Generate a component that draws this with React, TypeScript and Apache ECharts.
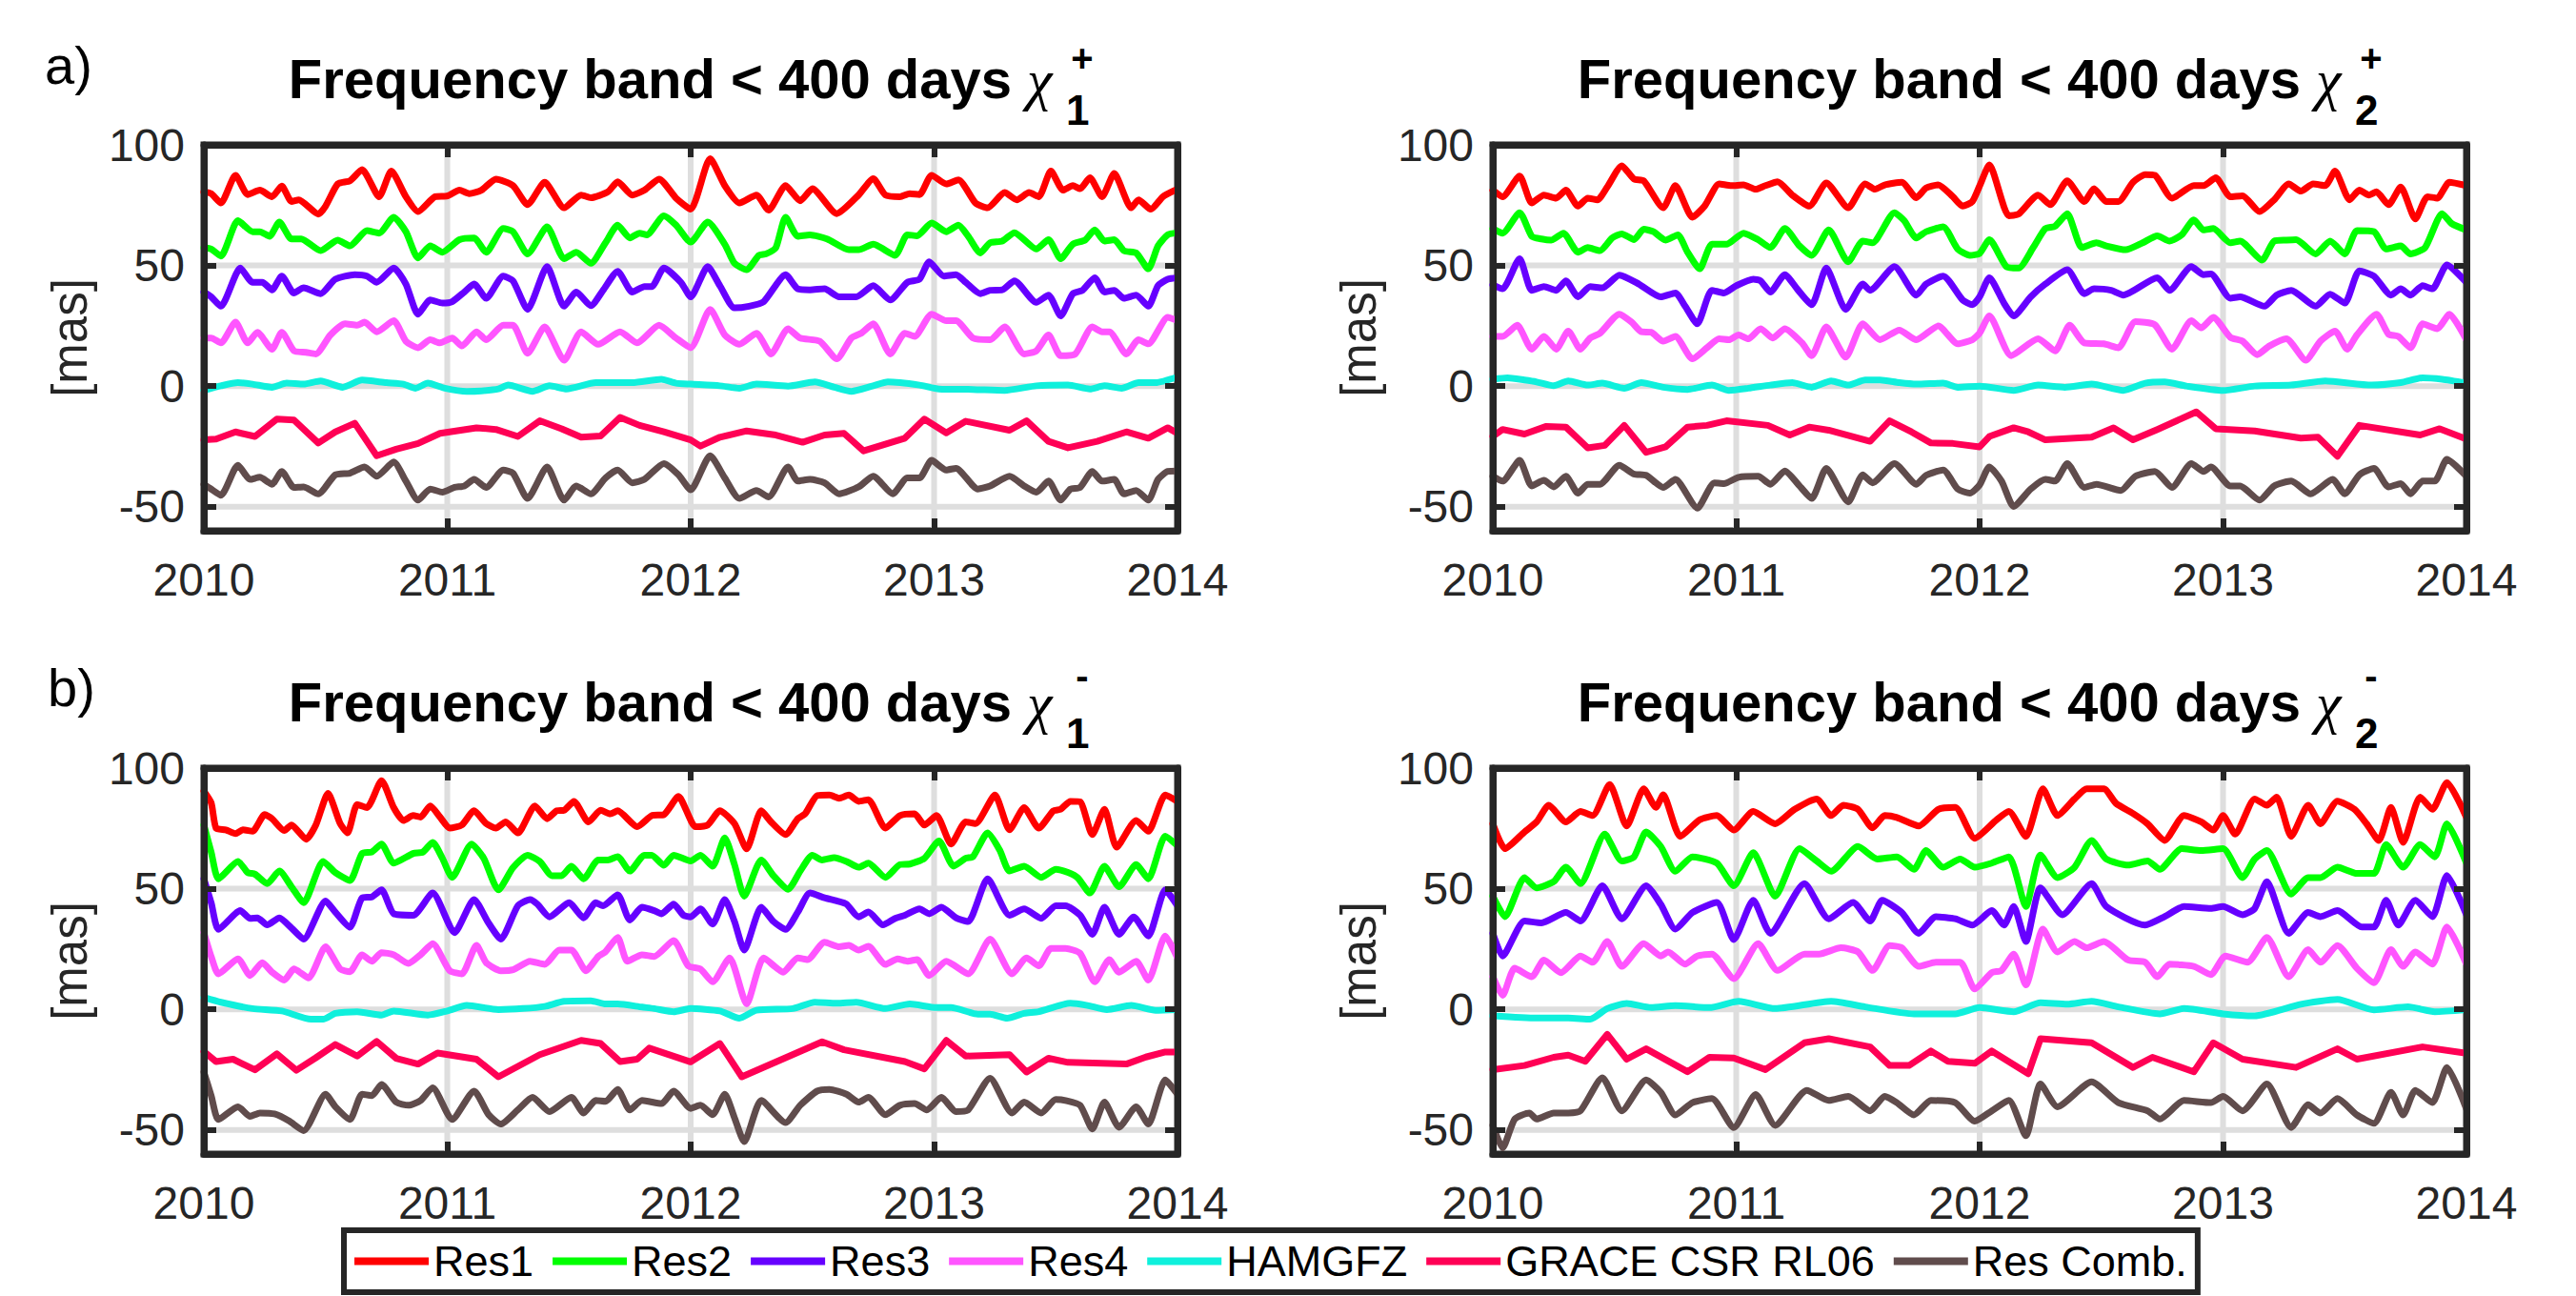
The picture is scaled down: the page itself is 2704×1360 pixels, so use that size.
import React, { useEffect, useRef } from "react";
import * as echarts from "echarts";

// ---------- data (flat lists: year, value, year, value, ...) ----------
const a1Res1 = [2010,80.5,2010.03,79.8,2010.07,75.9,2010.13,87.4,2010.18,79.4,2010.23,81.2,2010.28,78.5,2010.32,82.9,2010.36,76.5,2010.39,77.2,2010.47,71.3,2010.5,74.6,2010.55,83.8,2010.6,85.1,2010.65,89.7,2010.72,78.5,2010.77,89.1,2010.83,78.5,2010.88,72.3,2010.95,78.5,2011,78.8,2011.05,81.2,2011.09,79.8,2011.14,81.2,2011.2,85.8,2011.27,83.1,2011.33,75.2,2011.4,84.5,2011.48,73.9,2011.55,79.2,2011.59,78.1,2011.66,80.5,2011.7,84.7,2011.76,79.2,2011.81,81.2,2011.87,85.8,2011.94,77.9,2012,73.3,2012.08,94.3,2012.14,83.1,2012.2,75.9,2012.27,79.2,2012.32,72.9,2012.39,83.1,2012.45,76.8,2012.5,81.8,2012.6,71.5,2012.69,79.2,2012.75,86,2012.8,79.2,2012.86,78.5,2012.9,79.8,2012.94,79.4,2012.99,87.4,2013.05,83.8,2013.1,85.5,2013.17,75.9,2013.22,73.9,2013.29,80.2,2013.34,77.2,2013.39,80.2,2013.43,78.5,2013.48,89.1,2013.53,81.2,2013.57,83.1,2013.6,81.8,2013.64,86.4,2013.69,78.5,2013.74,88.1,2013.81,73.9,2013.84,77.2,2013.89,73.3,2013.94,78.5,2013.99,81.2,2014,81.5];
const a1Res2 = [2010,57.4,2010.03,56.8,2010.07,53.9,2010.14,68.6,2010.2,64,2010.23,64,2010.27,62.1,2010.31,68,2010.36,61,2010.4,61,2010.48,56.1,2010.55,60.5,2010.6,58.1,2010.67,64.4,2010.72,63.4,2010.78,70,2010.83,64,2010.88,53.1,2010.93,58.1,2010.98,55.5,2011.05,60.7,2011.11,61.4,2011.16,55.5,2011.23,65.3,2011.27,64,2011.33,54.8,2011.41,66,2011.48,52.8,2011.53,55.5,2011.59,50.9,2011.65,59.4,2011.7,66.7,2011.75,61.4,2011.79,63.4,2011.82,62.7,2011.89,70.6,2011.94,66.7,2012,59.7,2012.07,68,2012.14,58.8,2012.18,50.9,2012.23,48.2,2012.28,54.2,2012.31,54.8,2012.35,57.4,2012.39,70,2012.44,62.1,2012.49,62.7,2012.56,61,2012.65,56.5,2012.69,56.5,2012.75,58.8,2012.84,54.2,2012.89,62.7,2012.93,62.3,2012.99,67.6,2013.05,64,2013.1,66.7,2013.14,62.1,2013.19,55.2,2013.23,59.4,2013.28,60.1,2013.33,63.6,2013.42,56.8,2013.47,60.7,2013.52,52.8,2013.57,58.8,2013.62,60.5,2013.66,64.7,2013.7,60.1,2013.74,60.7,2013.78,56.1,2013.83,55.2,2013.88,48.6,2013.92,58.1,2013.96,62.7,2014,63.6];
const a1Res3 = [2010,39,2010.03,37,2010.07,33.1,2010.15,48.9,2010.2,43,2010.24,43,2010.28,39.9,2010.32,45.6,2010.37,38.6,2010.41,40.7,2010.48,38.3,2010.54,44.3,2010.62,46.2,2010.67,45.6,2010.71,43,2010.78,48.9,2010.83,42.3,2010.88,29.8,2010.93,35.7,2010.98,34.4,2011.02,35,2011.07,39,2011.11,42.3,2011.16,36.4,2011.23,45.6,2011.27,43.6,2011.33,31.8,2011.41,49.5,2011.48,33.1,2011.53,39,2011.59,33.3,2011.64,39.7,2011.7,47.6,2011.76,39,2011.81,41.2,2011.84,41.2,2011.89,48.9,2011.96,43,2012,37,2012.07,49.5,2012.12,41.6,2012.18,32.4,2012.24,33.1,2012.3,35,2012.39,46.2,2012.44,40.3,2012.49,39.9,2012.55,40.3,2012.61,37,2012.68,37,2012.75,41.6,2012.82,35.7,2012.89,43,2012.94,44.3,2012.98,51.5,2013.04,45.6,2013.09,46.2,2013.13,43,2013.19,38.3,2013.23,39.7,2013.28,39.9,2013.33,43.6,2013.42,34.7,2013.47,37.7,2013.52,29.1,2013.57,38.3,2013.61,39.7,2013.66,44.9,2013.7,39,2013.74,39.7,2013.78,36.4,2013.83,37.7,2013.88,33.1,2013.92,41.6,2013.96,44.3,2014,44.9];
const a1Res4 = [2010,19.9,2010.03,19.9,2010.07,17.9,2010.13,26.5,2010.18,17.9,2010.22,22.3,2010.28,15.3,2010.32,22.3,2010.37,14.6,2010.42,14,2010.46,13.3,2010.52,21.2,2010.58,25.8,2010.63,25.2,2010.66,26.5,2010.71,22.5,2010.78,27.1,2010.83,18.6,2010.88,15.9,2010.93,19.2,2010.97,17.9,2011.02,19.9,2011.06,16.6,2011.12,22.5,2011.16,19.2,2011.23,25.2,2011.27,25.2,2011.33,13.6,2011.4,24.5,2011.48,10.7,2011.55,22.5,2011.62,17.3,2011.71,22.5,2011.78,17.9,2011.87,25.2,2011.94,19.9,2012,15.9,2012.08,31.8,2012.14,21.2,2012.2,17.3,2012.27,21.9,2012.33,13.3,2012.4,23.8,2012.45,19.9,2012.53,18.6,2012.6,11.3,2012.66,19.9,2012.7,21.9,2012.75,25.8,2012.82,13.3,2012.88,21.9,2012.92,20.6,2012.99,29.8,2013.05,27.1,2013.09,27.1,2013.16,19.9,2013.23,19.2,2013.29,24.5,2013.37,13.3,2013.42,14.6,2013.47,21.2,2013.52,12.6,2013.58,13.3,2013.65,24.5,2013.69,22.5,2013.72,22.5,2013.79,13.3,2013.84,19.2,2013.88,17.5,2013.96,28.5,2014,27.1];
const a1Ham = [2010,-1.8,2010.07,0.1,2010.14,1.4,2010.2,0.8,2010.28,-0.5,2010.34,1.2,2010.41,0.8,2010.48,2.1,2010.57,-0.5,2010.65,2.5,2010.75,1.4,2010.82,0.8,2010.87,-0.9,2010.92,1.2,2010.99,-0.9,2011.08,-2.2,2011.14,-2,2011.21,-1.2,2011.25,0.4,2011.35,-2.2,2011.42,0.1,2011.49,-1.2,2011.61,1.4,2011.76,1.4,2011.88,2.8,2011.94,1.2,2012,0.8,2012.12,0.1,2012.2,-0.9,2012.27,0.8,2012.4,0,2012.51,1.7,2012.59,-0.5,2012.66,-2.2,2012.75,0.1,2012.81,1.7,2012.94,0.4,2013.02,-1.2,2013.16,-1.4,2013.29,-1.8,2013.42,0.1,2013.55,0.4,2013.64,-1.2,2013.7,0.1,2013.77,-0.9,2013.84,1.4,2013.91,1.4,2014,3.8];
const a1Grace = [2010,-22.3,2010.05,-22,2010.13,-19,2010.21,-20.9,2010.3,-13.7,2010.37,-14.1,2010.47,-23.6,2010.54,-19,2010.62,-15.4,2010.71,-28.9,2010.79,-26.2,2010.88,-23.8,2010.97,-19.6,2011.12,-17.3,2011.2,-18,2011.29,-20.9,2011.38,-14.4,2011.47,-17.7,2011.55,-21.2,2011.63,-20.7,2011.71,-13,2011.79,-16.3,2011.89,-19,2012,-22.3,2012.04,-24.9,2012.12,-21.2,2012.23,-18.6,2012.35,-20.3,2012.46,-23.3,2012.55,-20.3,2012.63,-19.6,2012.71,-26.9,2012.88,-21.6,2012.96,-13.7,2013.05,-19.4,2013.13,-14.6,2013.31,-18.3,2013.38,-14.4,2013.47,-22.9,2013.55,-25.6,2013.67,-22.9,2013.79,-19,2013.88,-21.6,2013.96,-17.3,2014,-19.6];
const a1Comb = [2010,-40.7,2010.03,-42.7,2010.07,-45.3,2010.14,-32.8,2010.19,-38.7,2010.23,-37.8,2010.28,-40.7,2010.32,-35.4,2010.37,-42,2010.41,-41.8,2010.47,-44.7,2010.54,-36.8,2010.6,-36.1,2010.66,-33.5,2010.71,-37.4,2010.78,-31.5,2010.83,-39.4,2010.88,-47.3,2010.93,-42.7,2010.98,-44,2011.03,-42,2011.07,-41.4,2011.11,-38.7,2011.16,-42,2011.23,-34.8,2011.27,-36.1,2011.33,-46.6,2011.41,-33.5,2011.48,-47.3,2011.53,-41.4,2011.59,-44.7,2011.65,-38.1,2011.7,-34.8,2011.76,-40.1,2011.81,-38.7,2011.89,-32.1,2011.95,-36.8,2012,-43,2012.08,-28.9,2012.14,-38.1,2012.2,-46.6,2012.27,-43.3,2012.32,-46,2012.4,-33.5,2012.44,-39.4,2012.49,-38.7,2012.55,-40.1,2012.61,-44.7,2012.69,-41.8,2012.75,-37.4,2012.83,-44.7,2012.89,-38.1,2012.94,-38.1,2012.99,-30.8,2013.05,-34.8,2013.09,-34.1,2013.18,-42.7,2013.23,-41.4,2013.31,-37.4,2013.37,-41.4,2013.42,-44,2013.47,-39.4,2013.52,-47.3,2013.56,-42.7,2013.6,-42,2013.65,-35.4,2013.69,-39.4,2013.74,-38.7,2013.78,-44.7,2013.83,-43.3,2013.88,-47.3,2013.92,-38.7,2013.96,-35.4,2014,-35.2];

const a2Res1 = [2010,81.2,2010.04,78.5,2010.11,87.1,2010.16,75.9,2010.21,79.2,2010.26,77.9,2010.3,81.2,2010.35,74.6,2010.39,77.9,2010.43,77.2,2010.47,82.5,2010.53,91.3,2010.58,85.8,2010.62,85.1,2010.7,73.9,2010.75,83.1,2010.82,70,2010.87,74.6,2010.93,83.8,2010.98,83.1,2011.03,83.4,2011.08,81.6,2011.12,83.1,2011.17,84.7,2011.23,79.2,2011.3,74.6,2011.37,84.2,2011.46,73.9,2011.53,83.8,2011.57,81.6,2011.61,83.4,2011.68,84.5,2011.74,78.1,2011.78,82.1,2011.83,83.4,2011.89,78.5,2011.93,74.6,2011.97,76.5,2012,83,2012.04,91.7,2012.12,70.6,2012.16,71.3,2012.24,79.2,2012.29,75.2,2012.36,85.1,2012.43,76.5,2012.47,81.8,2012.52,76.5,2012.57,76.5,2012.63,84.5,2012.68,87.7,2012.72,87.4,2012.79,77.9,2012.88,83.1,2012.92,83.1,2012.97,86.4,2013.03,78.5,2013.08,78.9,2013.15,72.3,2013.21,77.2,2013.27,83.8,2013.32,80.8,2013.37,83.8,2013.42,83.1,2013.46,89.1,2013.52,77.2,2013.56,81.2,2013.6,79.2,2013.63,80.5,2013.68,75.2,2013.73,82.5,2013.79,69.3,2013.84,78.5,2013.88,77.9,2013.93,84.5,2014,83.1];
const a2Res2 = [2010,65.3,2010.04,63.4,2010.11,71.9,2010.16,62.1,2010.2,61,2010.24,60.5,2010.29,63.4,2010.35,55.5,2010.39,57.4,2010.44,56.1,2010.49,61.4,2010.53,63.1,2010.58,60.7,2010.62,65,2010.66,64,2010.71,60.5,2010.76,62.7,2010.8,55.5,2010.85,48.6,2010.9,58.8,2010.96,58.8,2011.03,63.4,2011.09,60.7,2011.14,57.4,2011.2,65.3,2011.26,58.1,2011.31,54.2,2011.38,64.7,2011.46,51.5,2011.52,60.1,2011.56,59.4,2011.65,71.9,2011.69,68.6,2011.74,61.4,2011.78,64,2011.85,66,2011.91,56.8,2011.96,54.2,2012,55,2012.04,60.7,2012.11,49.5,2012.16,48.9,2012.22,57.4,2012.27,65.3,2012.31,66.3,2012.36,71.5,2012.42,57.4,2012.48,59.4,2012.52,58.1,2012.6,56.5,2012.67,59.4,2012.73,62.3,2012.78,60.1,2012.83,62.7,2012.88,68.9,2012.92,64.7,2012.96,65.3,2013.03,59.4,2013.07,60.1,2013.16,52.2,2013.21,60.1,2013.26,60.5,2013.3,60.7,2013.38,54.8,2013.44,60.1,2013.5,54.8,2013.55,64.4,2013.62,64,2013.67,56.8,2013.73,58.1,2013.77,54.8,2013.83,57.4,2013.9,71.5,2013.94,67.3,2014,64.7];
const a2Res3 = [2010,42,2010.04,40.3,2010.11,52.8,2010.16,39.7,2010.21,41.2,2010.26,39.7,2010.3,43.6,2010.35,37,2010.4,41.2,2010.45,40.7,2010.52,46,2010.6,42.3,2010.69,37,2010.75,38.6,2010.79,33.1,2010.84,25.8,2010.9,39.7,2010.95,38.6,2011,41.6,2011.07,44.3,2011.1,43.6,2011.14,39,2011.2,46.2,2011.25,40.3,2011.31,33.7,2011.37,48.9,2011.45,31.8,2011.52,42.3,2011.55,39.7,2011.65,49.5,2011.74,37.7,2011.78,42.3,2011.85,45.6,2011.93,35.7,2011.97,33.7,2012,37,2012.04,44.9,2012.1,34.4,2012.14,29.1,2012.21,37,2012.27,42.3,2012.36,48.2,2012.43,38.3,2012.47,40.3,2012.54,39.7,2012.59,37.7,2012.73,44.9,2012.78,39.7,2012.87,49.5,2012.92,46.2,2012.95,46.5,2013.03,36.4,2013.07,37,2013.17,33.1,2013.22,37.7,2013.28,39.7,2013.38,33.1,2013.44,38.1,2013.5,34.4,2013.56,47.8,2013.62,45.6,2013.69,37.7,2013.73,40.3,2013.77,37.7,2013.82,41.6,2013.86,40.3,2013.92,50.2,2014,43];
const a2Res4 = [2010,20.6,2010.04,20.6,2010.1,25.2,2010.16,15.3,2010.21,20.6,2010.26,15.3,2010.31,22.8,2010.36,15.3,2010.4,19.9,2010.44,21.9,2010.52,29.8,2010.57,26.5,2010.61,22.5,2010.65,22.3,2010.7,18.6,2010.75,20.6,2010.82,11.3,2010.88,15.9,2010.93,19.6,2010.97,19.2,2011.01,21.2,2011.05,19.6,2011.1,23.8,2011.15,19.9,2011.2,23.8,2011.27,17.9,2011.31,12.6,2011.37,24.5,2011.45,12,2011.52,25.8,2011.59,19.2,2011.67,23.2,2011.74,19.2,2011.83,24.9,2011.91,17.5,2011.97,19.2,2012,22,2012.04,29.1,2012.13,12.6,2012.24,19.6,2012.31,14.6,2012.37,25.2,2012.43,17.9,2012.51,17.5,2012.57,15.9,2012.64,26.7,2012.72,25.4,2012.79,15.3,2012.87,27.1,2012.91,24.1,2012.96,28.5,2013.03,20.2,2013.08,18.6,2013.14,13,2013.19,16.6,2013.26,19.6,2013.34,10.7,2013.4,18.6,2013.46,22.8,2013.51,15.3,2013.55,21.2,2013.63,29.8,2013.68,21.5,2013.72,20.6,2013.77,15.9,2013.82,25.8,2013.88,23.8,2013.93,29.8,2014,19.2];
const a2Ham = [2010,2.8,2010.06,3.4,2010.13,2.5,2010.18,1.7,2010.25,0.1,2010.31,2.1,2010.39,0.4,2010.45,1.2,2010.54,-0.9,2010.61,1.4,2010.7,-0.5,2010.8,-1.4,2010.9,0.4,2010.97,-1.8,2011.05,-0.9,2011.14,0.4,2011.23,1.4,2011.31,-0.5,2011.39,2.1,2011.46,0.4,2011.53,2.5,2011.59,2.5,2011.67,1.4,2011.74,0.8,2011.85,1.2,2011.91,-0.5,2012,0,2012.14,-1.8,2012.24,0.4,2012.35,-0.5,2012.46,0.8,2012.59,-1.8,2012.68,1.2,2012.76,1.7,2012.85,0,2013,-1.8,2013.13,0,2013.28,0.4,2013.42,2.1,2013.61,0.4,2013.73,1.4,2013.82,3.4,2013.9,2.8,2014,1.2];
const a2Grace = [2010,-20.9,2010.04,-18,2010.13,-19.9,2010.22,-16.7,2010.3,-17,2010.39,-25.6,2010.46,-24.6,2010.54,-16.3,2010.63,-27.5,2010.71,-25.2,2010.8,-17,2010.88,-16.3,2010.96,-14.4,2011.13,-16.3,2011.22,-20.3,2011.3,-17,2011.38,-18.3,2011.55,-22.9,2011.63,-14.4,2011.72,-19,2011.8,-23.6,2011.89,-23.8,2012,-25.2,2012.04,-20.9,2012.14,-17.3,2012.2,-19,2012.27,-22.3,2012.46,-21.2,2012.55,-17.3,2012.63,-22.3,2012.73,-18,2012.89,-10.7,2012.97,-17.7,2013.13,-18.6,2013.32,-21.6,2013.39,-21.2,2013.47,-29.1,2013.56,-16.3,2013.81,-20.3,2013.89,-17.7,2014,-22];
const a2Comb = [2010,-37.4,2010.04,-39.4,2010.11,-30.8,2010.16,-41.4,2010.21,-39.1,2010.25,-41.8,2010.3,-37.4,2010.35,-44.4,2010.39,-40.7,2010.44,-40.7,2010.52,-32.8,2010.58,-36.5,2010.63,-37,2010.7,-42,2010.75,-38.7,2010.84,-50.6,2010.91,-40.1,2010.95,-40.4,2011.01,-37.8,2011.09,-37.4,2011.14,-40.7,2011.2,-35.2,2011.26,-41.4,2011.31,-46.6,2011.37,-34.1,2011.46,-48,2011.52,-36.8,2011.56,-40.1,2011.65,-32.1,2011.74,-40.7,2011.78,-37,2011.85,-34.8,2011.91,-42.7,2011.96,-44.4,2012,-41,2012.04,-33.5,2012.09,-39.4,2012.14,-49.9,2012.21,-42.7,2012.27,-38.7,2012.31,-39.4,2012.36,-32.1,2012.43,-42,2012.48,-40.7,2012.58,-43.3,2012.64,-37.4,2012.72,-35.4,2012.79,-42,2012.87,-32.1,2012.92,-35.4,2012.95,-33.5,2013.03,-41.4,2013.07,-41.4,2013.15,-47.3,2013.21,-41.4,2013.28,-39.4,2013.36,-44.7,2013.45,-38.7,2013.5,-44.7,2013.56,-36.8,2013.62,-34.1,2013.68,-41.8,2013.73,-40.4,2013.77,-44.7,2013.82,-39.4,2013.87,-39.4,2013.92,-30.4,2014,-37.4];

const b1Res1 = [2010,90.4,2010.03,85.6,2010.05,75.1,2010.09,74.4,2010.13,72.8,2010.16,74.4,2010.2,73.8,2010.25,80.7,2010.28,79,2010.33,74.1,2010.36,76.4,2010.42,70.5,2010.46,76.4,2010.51,89.5,2010.56,77,2010.59,73.1,2010.63,84.9,2010.67,83.6,2010.73,94.8,2010.78,83.6,2010.82,78.3,2010.86,80.3,2010.89,79.7,2010.93,84.3,2010.97,79.7,2011.01,75.1,2011.06,76.4,2011.11,82.3,2011.16,77,2011.2,75.1,2011.24,77.7,2011.29,73.1,2011.36,84.3,2011.41,79,2011.45,82.3,2011.48,82.5,2011.52,86.2,2011.58,77.7,2011.63,82.5,2011.67,81,2011.7,82.3,2011.78,75.7,2011.84,80.3,2011.89,80.7,2011.95,88.2,2012.02,75.7,2012.07,76.4,2012.12,82.3,2012.18,77,2012.23,66.5,2012.29,82.3,2012.33,77.7,2012.39,72.4,2012.44,79,2012.47,81,2012.52,88.6,2012.57,88.8,2012.61,87.5,2012.65,88.8,2012.69,86.2,2012.73,86.9,2012.8,75.1,2012.86,80.3,2012.92,81,2012.96,76.4,2013.01,80.3,2013.07,68.5,2013.13,77.7,2013.17,77,2013.25,88.8,2013.31,74.4,2013.37,83.6,2013.43,75.1,2013.49,82.3,2013.52,82.9,2013.56,86.2,2013.6,86,2013.65,72.4,2013.7,82.9,2013.75,67.2,2013.83,78.3,2013.88,73.8,2013.95,88.8,2014,86.2];
const b1Res2 = [2010,76.4,2010.03,65.2,2010.06,54.1,2010.14,61.3,2010.18,56.7,2010.21,56,2010.26,52.1,2010.31,57.3,2010.36,50.8,2010.41,44.2,2010.49,61.3,2010.54,56.7,2010.6,53.4,2010.65,64.6,2010.69,65.2,2010.73,68.5,2010.78,60.6,2010.86,64.6,2010.9,65.2,2010.94,69.2,2010.98,62.6,2011.02,54.7,2011.1,68.5,2011.15,62.6,2011.21,49.5,2011.27,58.7,2011.33,63.9,2011.38,61.3,2011.43,55.4,2011.47,55.4,2011.51,59.3,2011.56,54.1,2011.62,61.9,2011.66,61.9,2011.7,63.3,2011.75,57.3,2011.81,63.9,2011.84,63.9,2011.89,59.7,2011.93,63.9,2012,61.5,2012.04,63.9,2012.09,59.3,2012.14,71.1,2012.18,60,2012.22,46.9,2012.29,61.9,2012.34,55.4,2012.4,49.7,2012.45,57.3,2012.5,63.9,2012.54,61.9,2012.59,62.9,2012.64,61.3,2012.69,58.9,2012.73,60.6,2012.8,54.7,2012.86,60,2012.9,60.2,2012.96,62.6,2013.02,69.8,2013.08,59.3,2013.13,62.6,2013.16,63.3,2013.22,73.1,2013.27,65.9,2013.31,57.3,2013.37,59.3,2013.44,54.7,2013.5,58,2013.55,56.7,2013.59,54.5,2013.64,48.2,2013.7,59.3,2013.76,50.8,2013.83,60,2013.88,54.1,2013.95,71.8,2014,67.8];
const b1Res3 = [2010,54.1,2010.03,44.2,2010.06,33.1,2010.15,40.9,2010.19,37.7,2010.22,37.9,2010.26,35,2010.31,37.9,2010.36,33.7,2010.41,29.1,2010.5,44.9,2010.54,40.3,2010.6,34,2010.65,46.2,2010.69,46.6,2010.73,49.5,2010.78,39.6,2010.86,39,2010.94,48.2,2011.03,31.8,2011.11,45.5,2011.17,35.7,2011.22,29.1,2011.29,42.9,2011.34,45.5,2011.37,43.6,2011.42,38.3,2011.5,44.2,2011.56,37.9,2011.61,44.2,2011.64,42.9,2011.7,47.5,2011.75,37,2011.8,42.3,2011.85,40.9,2011.88,39.6,2011.93,43.6,2011.97,39,2012,38.3,2012.04,41.6,2012.09,35.3,2012.14,45.5,2012.18,36.4,2012.22,24.5,2012.29,42.3,2012.34,36.4,2012.39,33.1,2012.44,40.3,2012.49,48.2,2012.55,46.2,2012.6,44.9,2012.64,43.6,2012.69,38.3,2012.73,40.3,2012.79,35,2012.84,37.7,2012.88,39,2012.94,41.6,2012.98,39.6,2013.03,42.3,2013.09,37.9,2013.14,36.4,2013.22,54.1,2013.31,39,2013.37,41.6,2013.44,37.7,2013.5,42.9,2013.54,42.9,2013.6,39,2013.65,31.1,2013.7,42.3,2013.76,31.1,2013.82,38.3,2013.88,30.4,2013.95,49.5,2014,42.9];
const b1Res4 = [2010,31.8,2010.03,21.9,2010.06,14.7,2010.14,20.9,2010.19,14,2010.24,19.3,2010.28,15.4,2010.33,12.1,2010.37,16.7,2010.43,13,2010.5,25.9,2010.56,16.7,2010.6,15.6,2010.65,22.6,2010.69,19.9,2010.73,23.5,2010.78,22.6,2010.84,19,2010.89,22.6,2010.94,27.2,2011.01,16,2011.06,14.7,2011.12,26.5,2011.16,19.3,2011.22,16,2011.27,16.4,2011.34,19.9,2011.4,18.6,2011.46,24.5,2011.51,24.5,2011.57,16,2011.62,21.9,2011.65,23.9,2011.7,29.8,2011.74,19.9,2011.8,22.6,2011.85,21.9,2011.93,28.5,2011.99,18,2012.04,16.7,2012.09,11.4,2012.16,21.3,2012.23,2.2,2012.3,21.3,2012.38,15.4,2012.44,21.3,2012.48,20.6,2012.55,27.8,2012.61,25.9,2012.65,26.5,2012.69,24.5,2012.73,26.1,2012.8,18.6,2012.85,20.9,2012.89,19.9,2012.93,20.6,2012.98,14,2013.05,19.9,2013.14,14.7,2013.23,29.1,2013.32,14.7,2013.38,21.3,2013.43,18,2013.48,25.2,2013.54,25.2,2013.6,23.2,2013.66,11.4,2013.72,20.6,2013.76,15.4,2013.83,19.9,2013.88,12.1,2013.95,30.4,2014,21.3];
const b1Ham = [2010,4.9,2010.07,2.9,2010.2,0.3,2010.32,-0.7,2010.44,-4.1,2010.49,-4.1,2010.54,-1.7,2010.63,-1,2010.73,-2.4,2010.78,-0.7,2010.92,-2.4,2011,-0.7,2011.08,1.6,2011.21,-0.1,2011.31,0.3,2011.4,1.2,2011.48,3.3,2011.59,3.5,2011.65,2.2,2011.7,2.2,2011.8,0.9,2011.85,0.3,2011.93,-1,2012,0.3,2012.12,-0.7,2012.2,-3.7,2012.27,-0.4,2012.42,0.3,2012.51,2.9,2012.6,2.5,2012.68,2.9,2012.8,0.3,2012.9,2.2,2013.01,0.7,2013.07,0.7,2013.18,-2,2013.23,-2,2013.3,-3.7,2013.37,-1.7,2013.43,-1,2013.56,2.5,2013.63,1.6,2013.71,-0.1,2013.81,1.6,2013.91,-0.4,2014,-0.1];
const b1Grace = [2010,-17.5,2010.05,-21.7,2010.12,-20.7,2010.21,-25.1,2010.3,-18.5,2010.38,-25.3,2010.46,-20.1,2010.54,-14.6,2010.63,-19.4,2010.71,-13.3,2010.79,-20.3,2010.88,-22.7,2010.96,-18.1,2011.12,-20.7,2011.21,-28,2011.38,-18.8,2011.55,-12.9,2011.63,-14.2,2011.71,-21.7,2011.78,-20.7,2011.83,-16.1,2012,-21.8,2012.12,-14.2,2012.21,-28,2012.54,-13.5,2012.63,-16.8,2012.88,-21.7,2012.96,-24.7,2013.05,-12.9,2013.13,-19.4,2013.31,-18.8,2013.38,-26,2013.47,-20.3,2013.55,-22,2013.79,-22.7,2013.87,-19.8,2013.95,-17.7,2014,-17.7];
const b1Comb = [2010,-26,2010.03,-35.8,2010.06,-45.7,2010.14,-40.4,2010.19,-44.4,2010.23,-43,2010.29,-43.4,2010.35,-46.3,2010.41,-50.3,2010.5,-35.2,2010.54,-40.4,2010.6,-45.7,2010.65,-35.2,2010.69,-35.8,2010.73,-31.2,2010.79,-38.5,2010.84,-39.8,2010.89,-37.8,2010.94,-32.5,2011.02,-45.7,2011.11,-33.9,2011.17,-43.7,2011.22,-47.6,2011.29,-41.7,2011.35,-36.5,2011.42,-42.4,2011.51,-36.5,2011.56,-43,2011.61,-37.8,2011.65,-38.2,2011.7,-33.2,2011.75,-41.7,2011.8,-37.8,2011.88,-39.1,2011.93,-33.9,2012,-41.1,2012.04,-39.8,2012.09,-43.7,2012.14,-35.2,2012.18,-45,2012.22,-54.9,2012.29,-37.8,2012.39,-47,2012.45,-39.8,2012.52,-33.9,2012.57,-33.2,2012.64,-35.2,2012.69,-38.5,2012.73,-36.5,2012.8,-43.7,2012.86,-39.8,2012.92,-39.1,2012.97,-41.7,2013.03,-36.5,2013.09,-42.4,2013.14,-41.7,2013.23,-28.6,2013.32,-43,2013.37,-38.5,2013.44,-43,2013.5,-37.4,2013.54,-37.8,2013.6,-39.8,2013.65,-49.6,2013.7,-38.5,2013.76,-48.9,2013.83,-40.4,2013.88,-47.6,2013.95,-29.3,2014,-35.2];

const b2Res1 = [2010,76.9,2010.05,66.6,2010.13,73.5,2010.18,77.7,2010.23,84.6,2010.3,77.7,2010.36,82,2010.41,80.3,2010.48,93.2,2010.55,76,2010.62,91.4,2010.67,83.7,2010.7,88.9,2010.77,71.7,2010.85,78.6,2010.92,80.3,2010.99,74.3,2011.07,82,2011.16,76.9,2011.24,82.9,2011.33,87.2,2011.39,80.3,2011.44,84.6,2011.5,82.9,2011.56,75.2,2011.61,80.3,2011.66,79.5,2011.75,76,2011.83,82.9,2011.9,83.7,2011.98,70.9,2012.07,78.6,2012.12,82,2012.19,71.7,2012.26,91.4,2012.32,80.3,2012.39,87.2,2012.44,91.4,2012.51,91.4,2012.56,85.4,2012.63,81.2,2012.69,76.9,2012.76,70,2012.84,80.3,2012.91,77.7,2012.96,74.3,2013,80.3,2013.05,72.6,2013.13,87.2,2013.18,84.6,2013.22,88,2013.28,71.7,2013.35,84.6,2013.4,76.9,2013.47,86.3,2013.54,82.9,2013.59,76.9,2013.64,70,2013.69,83.7,2013.74,69.2,2013.81,88,2013.86,82.9,2013.92,94,2014,79.5];
const b2Res2 = [2010,46.9,2010.05,38.4,2010.13,54.6,2010.18,50.3,2010.25,52.9,2010.3,58.9,2010.36,52.1,2010.46,72.6,2010.53,61.5,2010.58,63.2,2010.63,73.5,2010.69,67.5,2010.75,57.2,2010.82,63.2,2010.92,60.6,2010.99,51.2,2011.07,64.9,2011.16,46.9,2011.26,66.6,2011.33,61.5,2011.39,57.2,2011.5,67.5,2011.58,62.3,2011.66,63.2,2011.73,58,2011.78,65.8,2011.85,58.9,2011.92,62.3,2011.98,58.9,2012.05,60.6,2012.12,63.2,2012.19,42.6,2012.25,64,2012.32,54.6,2012.39,58.9,2012.46,70,2012.52,62.3,2012.61,59.8,2012.69,61.5,2012.74,58,2012.83,66.6,2012.91,65.8,2013,66.6,2013.08,54.6,2013.13,62.3,2013.18,65.8,2013.28,47.8,2013.35,54.6,2013.4,54.6,2013.47,58.9,2013.55,56.3,2013.62,56.3,2013.67,68.3,2013.74,58.9,2013.81,68.3,2013.87,63.2,2013.92,76.9,2014,60.6];
const b2Res3 = [2010,31.5,2010.04,22.1,2010.13,36.6,2010.2,35.8,2010.3,40.1,2010.36,36.6,2010.45,51.2,2010.53,37.5,2010.63,51.2,2010.69,43.5,2010.75,33.2,2010.82,40.1,2010.92,44.3,2010.99,28.9,2011.07,45.2,2011.14,31.5,2011.28,52.1,2011.38,37.5,2011.48,44.3,2011.55,36.6,2011.6,45.2,2011.68,40.1,2011.75,31.5,2011.82,38.4,2011.9,37.5,2011.97,34.9,2012.05,40.9,2012.1,34.9,2012.14,42.6,2012.19,28.1,2012.25,50.3,2012.34,39.2,2012.46,52.1,2012.52,42.6,2012.68,34.9,2012.76,38.4,2012.84,42.6,2012.95,41.8,2013,42.6,2013.08,39.2,2013.13,41.8,2013.18,52.9,2013.27,31.5,2013.35,40.1,2013.4,38.4,2013.47,40.9,2013.57,34.1,2013.62,34.1,2013.67,45.2,2013.72,34.9,2013.79,45.2,2013.86,38.4,2013.92,55.5,2014,39.2];
const b2Res4 = [2010,13.5,2010.04,5.8,2010.09,17,2010.16,13.5,2010.21,20.4,2010.28,15.2,2010.36,22.1,2010.41,19.5,2010.47,28.1,2010.53,17.8,2010.62,27.2,2010.69,22.1,2010.72,23.8,2010.79,18.7,2010.84,22.1,2010.9,22.9,2010.99,12.7,2011.09,27.2,2011.17,16.1,2011.28,22.9,2011.34,22.9,2011.43,25.5,2011.5,23.8,2011.56,16.1,2011.63,26.4,2011.68,25.5,2011.75,17.8,2011.82,19.5,2011.92,19.5,2011.98,8.4,2012.05,15.2,2012.09,16.1,2012.14,22.9,2012.19,10.1,2012.26,33.2,2012.32,23.8,2012.39,28.1,2012.44,25.5,2012.51,28.1,2012.61,20.4,2012.68,19.5,2012.73,13.5,2012.78,18.7,2012.88,17.8,2012.95,14.4,2013.01,22.1,2013.1,19.5,2013.18,29.8,2013.27,13.5,2013.35,24.7,2013.4,19.5,2013.47,26.4,2013.55,17,2013.62,11,2013.69,24.7,2013.74,17.8,2013.79,23.8,2013.86,18.7,2013.92,34.1,2014,18.7];
const b2Ham = [2010,-2.7,2010.18,-3.6,2010.31,-3.6,2010.4,-4.1,2010.47,0.3,2010.55,2.4,2010.65,0.7,2010.75,1.5,2010.89,0.7,2011.01,3.3,2011.16,0.3,2011.39,3.3,2011.53,1,2011.73,-1.9,2011.9,-1.9,2012,0.7,2012.14,-1,2012.25,2.7,2012.36,2.1,2012.46,3.3,2012.57,1,2012.74,-1.9,2012.84,0.3,2013,-1.9,2013.13,-2.7,2013.32,2.1,2013.47,4.1,2013.62,-0.2,2013.76,1,2013.87,-1,2014,-0.2];
const b2Grace = [2010,-25,2010.13,-23.3,2010.25,-19.9,2010.31,-19,2010.38,-21.6,2010.47,-10.4,2010.55,-20.7,2010.63,-16.4,2010.8,-25.9,2010.89,-19.9,2010.99,-20.2,2011.12,-25,2011.28,-13.9,2011.38,-12.2,2011.55,-15.6,2011.63,-23.3,2011.71,-23.3,2011.8,-17.3,2011.87,-21.6,2011.98,-22.4,2012.05,-17.3,2012.2,-26.7,2012.25,-12.2,2012.46,-13.9,2012.63,-24.1,2012.71,-19.9,2012.88,-25.9,2012.96,-13.9,2013.08,-20.7,2013.3,-24.1,2013.47,-16.4,2013.55,-20.7,2013.82,-15.6,2014,-18.2];
const b2Comb = [2010,-48.1,2010.04,-57.5,2010.09,-45.5,2010.15,-43,2010.18,-45.5,2010.25,-43,2010.31,-43,2010.36,-42.1,2010.45,-28.4,2010.53,-42.1,2010.63,-29.3,2010.69,-34.4,2010.75,-43.8,2010.82,-38.7,2010.9,-37,2010.99,-49,2011.08,-35.3,2011.16,-48.1,2011.29,-33.6,2011.38,-37.8,2011.46,-36.1,2011.55,-42.1,2011.61,-36.1,2011.66,-38.7,2011.73,-43.8,2011.8,-37.8,2011.9,-38.7,2011.98,-46.4,2012.05,-42.1,2012.12,-37.8,2012.19,-52.4,2012.25,-31,2012.32,-40.4,2012.46,-30.1,2012.57,-38.7,2012.69,-42.1,2012.74,-45.5,2012.84,-37.8,2012.95,-38.7,2013,-36.1,2013.08,-42.1,2013.18,-31,2013.28,-49,2013.35,-39.6,2013.4,-43,2013.47,-37,2013.55,-43.8,2013.62,-47.3,2013.69,-34.4,2013.74,-43.8,2013.79,-33.6,2013.86,-38.7,2013.92,-24.1,2014,-41.3];

const seriesNames = ["Res1", "Res2", "Res3", "Res4", "HAMGFZ", "GRACE CSR RL06", "Res Comb."];
const seriesColors = ["#ff0000", "#00ff00", "#6600ff", "#ff55ff", "#0ff0dc", "#ff0055", "#604c4c"];
const xTickValues = [2010, 2011, 2012, 2013, 2014];
const yTickValues = [-50, 0, 50, 100];
const yGridValues = [-50, 0, 50];
const xGridValues = [2011, 2012, 2013];
const panelLabels = ["a)", "b)"];

const panels = [
  { sub: "1", sup: "+", lines: [a1Res1, a1Res2, a1Res3, a1Res4, a1Ham, a1Grace, a1Comb] },
  { sub: "2", sup: "+", lines: [a2Res1, a2Res2, a2Res3, a2Res4, a2Ham, a2Grace, a2Comb] },
  { sub: "1", sup: "-", lines: [b1Res1, b1Res2, b1Res3, b1Res4, b1Ham, b1Grace, b1Comb] },
  { sub: "2", sup: "-", lines: [b2Res1, b2Res2, b2Res3, b2Res4, b2Ham, b2Grace, b2Comb] },
];

// ---------- layout ----------
const GRID_POS = [
  { left: 214, top: 152 },
  { left: 1567, top: 152 },
  { left: 214, top: 806 },
  { left: 1567, top: 806 },
];
const GRID_W = 1022;
const GRID_H = 405;
const FRAME = "#262626";
const SANS = "Liberation Sans";

const pairs = (a: number[]) => {
  const out: number[][] = [];
  for (let i = 0; i + 1 < a.length; i += 2) out.push([a[i], a[i + 1]]);
  return out;
};

function buildOption() {
  const grid: any[] = [];
  const xAxis: any[] = [];
  const yAxis: any[] = [];
  const series: any[] = [];
  const graphic: any[] = [];

  const axisLine = { show: true, onZero: false, lineStyle: { color: FRAME, width: 7 } };
  const axisTick = { show: true, inside: true, length: 13, lineStyle: { color: FRAME, width: 6 } };

  panels.forEach((p, i) => {
    const { left, top } = GRID_POS[i];
    grid.push({
      left, top, width: GRID_W, height: GRID_H,
      show: true, borderColor: FRAME, borderWidth: 7, backgroundColor: "#ffffff", containLabel: false,
    });
    const xBase = {
      type: "value", gridIndex: i, min: xTickValues[0], max: xTickValues[xTickValues.length - 1], interval: 1,
      z: 3, axisLine, axisTick, splitLine: { show: false },
    };
    xAxis.push({
      ...xBase, position: "bottom",
      axisLabel: { show: true, formatter: (v: number) => String(v), fontSize: 48, color: FRAME, margin: 27, fontFamily: SANS },
    });
    xAxis.push({ ...xBase, position: "top", axisLabel: { show: false } });
    const yBase = {
      type: "value", gridIndex: i, min: -60, max: 100, interval: 10, z: 3,
      axisLine, axisTick: { ...axisTick, customValues: yTickValues }, splitLine: { show: false },
    };
    yAxis.push({
      ...yBase, position: "left",
      axisLabel: {
        show: true, fontSize: 48, color: FRAME, margin: 20, fontFamily: SANS, padding: [10, 0, 0, 0],
        formatter: (v: number) => (yTickValues.indexOf(Math.round(v)) >= 0 ? String(Math.round(v)) : ""),
      },
      name: "[mas]", nameLocation: "middle", nameGap: 115, nameRotate: 90,
      nameTextStyle: { fontSize: 51, color: FRAME, fontFamily: SANS },
    });
    yAxis.push({ ...yBase, position: "right", axisLabel: { show: false } });

    const xi = 2 * i;
    const yi = 2 * i;
    // grid lines (light gray, below the data)
    yGridValues.forEach((v) => {
      series.push({
        type: "line", name: "_grid", xAxisIndex: xi, yAxisIndex: yi, silent: true, z: 1,
        symbol: "none", data: [[xTickValues[0], v], [xTickValues[xTickValues.length - 1], v]],
        lineStyle: { color: "#dedede", width: 6 }, itemStyle: { color: "#dedede" },
      });
    });
    xGridValues.forEach((v) => {
      series.push({
        type: "line", name: "_grid", xAxisIndex: xi, yAxisIndex: yi, silent: true, z: 1,
        symbol: "none", data: [[v, -60], [v, 100]],
        lineStyle: { color: "#dedede", width: 6 }, itemStyle: { color: "#dedede" },
      });
    });
    p.lines.forEach((arr, k) => {
      series.push({
        type: "line", name: seriesNames[k], xAxisIndex: xi, yAxisIndex: yi, z: 2,
        symbol: "none", showSymbol: false, smooth: k === 5 ? false : 0.2,
        data: pairs(arr), color: seriesColors[k],
        lineStyle: { color: seriesColors[k], width: 7, join: "round", cap: "round" },
        itemStyle: { color: seriesColors[k] },
      });
    });

    // title with chi symbol, subscript and superscript
    graphic.push({
      type: "text", x: left + 848, y: top - 70, silent: true,
      style: {
        text: "Frequency band < 400 days", fill: "#000", fontSize: 58, fontWeight: "bold", fontFamily: SANS,
        align: "right", textAlign: "right", verticalAlign: "middle", textVerticalAlign: "middle",
      },
    });
    graphic.push({
      type: "text", x: left + 864, y: top - 68, silent: true,
      style: {
        text: "\u03c7", fill: "#000", fontSize: 60, fontStyle: "italic", fontFamily: "Liberation Serif",
        align: "left", textAlign: "left", verticalAlign: "middle", textVerticalAlign: "middle",
      },
    });
    graphic.push({
      type: "text", x: left + 905, y: top - 37, silent: true,
      style: {
        text: p.sub, fill: "#000", fontSize: 44, fontWeight: "bold", fontFamily: SANS,
        align: "left", textAlign: "left", verticalAlign: "middle", textVerticalAlign: "middle",
      },
    });
    graphic.push({
      type: "text", x: left + 922, y: top - (p.sup === "+" ? 91 : 97), silent: true,
      style: {
        text: p.sup, fill: "#000", fontSize: 40, fontWeight: "bold", fontFamily: SANS,
        align: "center", textAlign: "center", verticalAlign: "middle", textVerticalAlign: "middle",
      },
    });
  });

  graphic.push({
    type: "text", x: 47, y: 68, silent: true,
    style: { text: panelLabels[0], fill: "#000", fontSize: 56, fontFamily: SANS, align: "left", textAlign: "left", verticalAlign: "middle", textVerticalAlign: "middle" },
  });
  graphic.push({
    type: "text", x: 50, y: 721, silent: true,
    style: { text: panelLabels[1], fill: "#000", fontSize: 56, fontFamily: SANS, align: "left", textAlign: "left", verticalAlign: "middle", textVerticalAlign: "middle" },
  });

  return {
    animation: false,
    backgroundColor: "#ffffff",
    textStyle: { fontFamily: SANS },
    grid, xAxis, yAxis, series, graphic,
    legend: {
      data: seriesNames, left: 361, top: 1291, orient: "horizontal",
      icon: "rect", itemWidth: 78, itemHeight: 8, itemGap: 20, padding: [10, 11],
      borderColor: FRAME, borderWidth: 6, backgroundColor: "#ffffff", selectedMode: false,
      textStyle: { fontSize: 45, color: "#000", fontFamily: SANS },
    },
  };
}

export default function App() {
  const ref = useRef<HTMLDivElement>(null);
  useEffect(() => {
    if (!ref.current) return;
    const chart = echarts.init(ref.current, undefined, { renderer: "svg" });
    chart.setOption(buildOption() as any);
    return () => chart.dispose();
  }, []);
  return (
    <div
      ref={ref}
      style={{ position: "absolute", left: 0, top: 0, width: 2704, height: 1360, background: "#fff" }}
    />
  );
}
